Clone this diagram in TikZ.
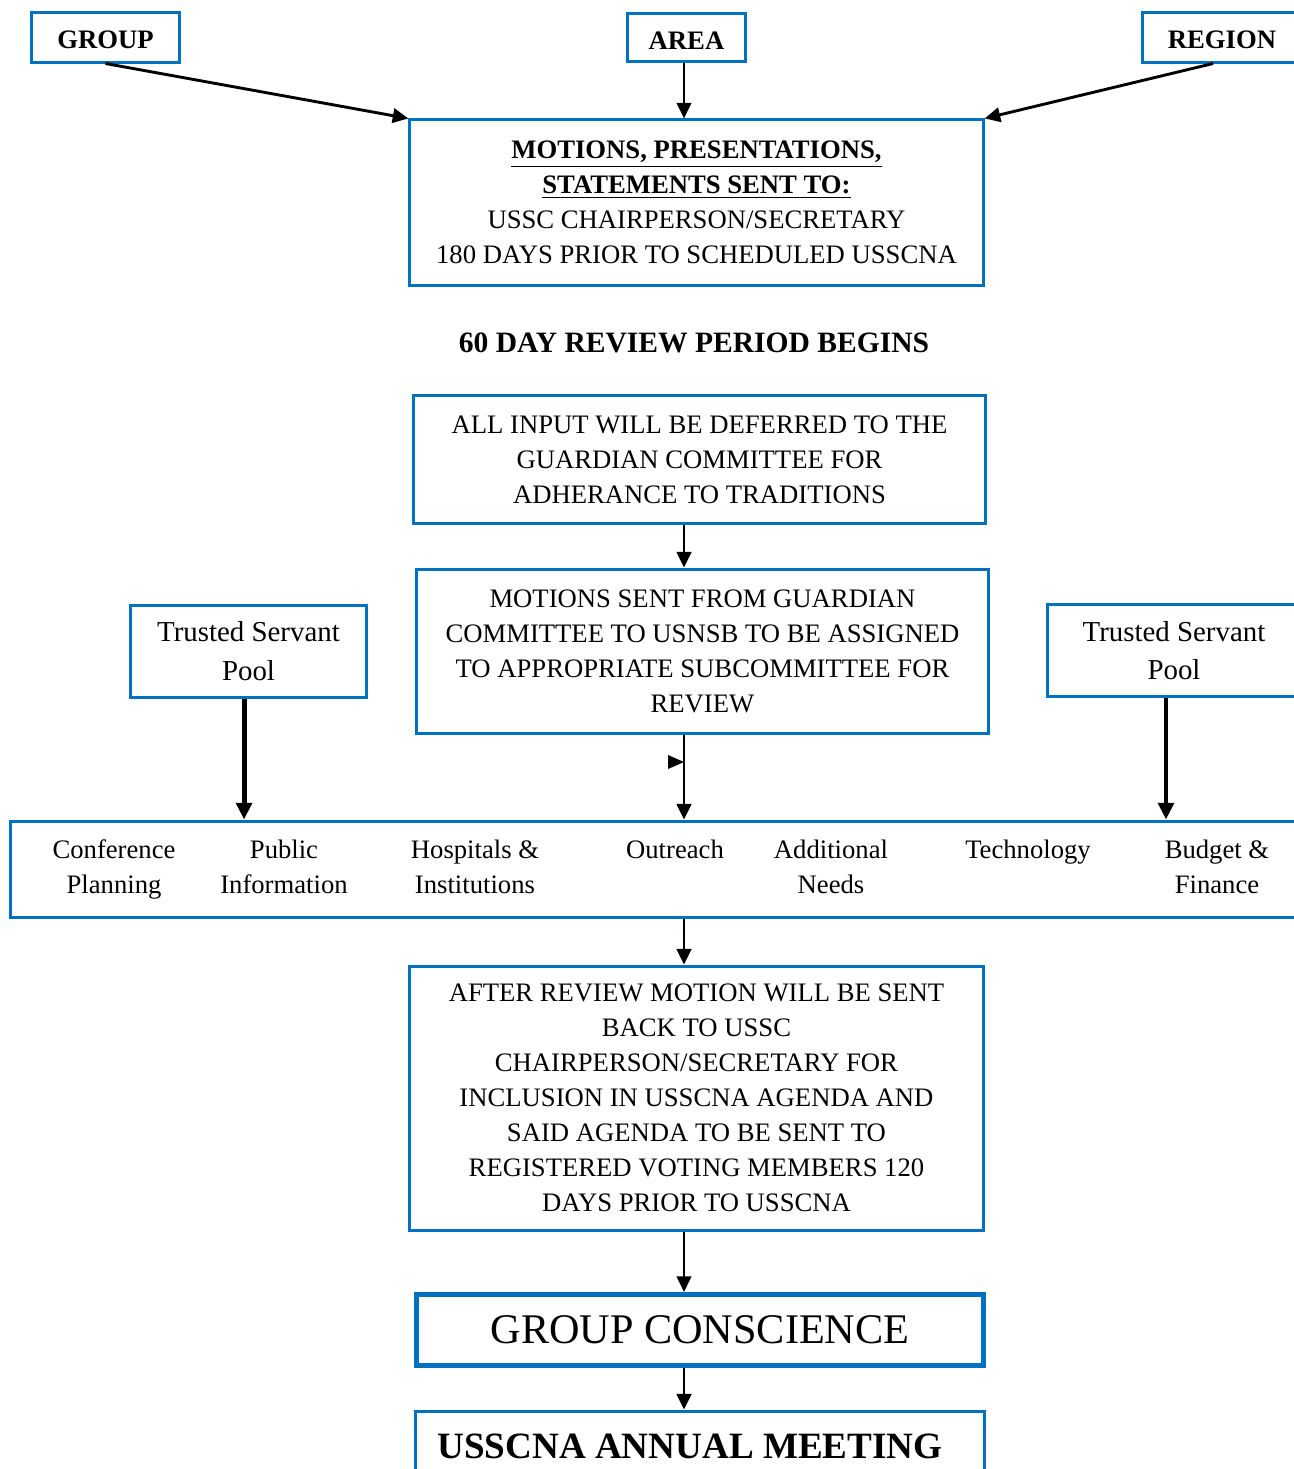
\documentclass[tikz,border=0pt]{standalone}
\usepackage{fontspec}
\setmainfont{Liberation Serif}
\usetikzlibrary{arrows.meta,positioning,calc}
\definecolor{wordblue}{HTML}{0070C0}

\begin{document}
\begin{tikzpicture}[x=0.45pt, y=-0.45pt,
    box/.style={draw=wordblue, line width=1.35pt, align=center, inner sep=0pt,
      font=\fontsize{12}{15.75}\selectfont},
    head/.style={box, text height=10.5pt, text depth=0pt},
    poolbox/.style={box, font=\fontsize{13}{17.2}\selectfont},
    lbl/.style={align=center, inner sep=0pt, font=\fontsize{12}{15.75}\selectfont},
    onelbl/.style={lbl, text height=8.5pt, text depth=2.6pt},
    arr/.style={-{Triangle[length=7pt,width=6.5pt]}, line width=1.3pt},
    fatarr/.style={-{Triangle[length=7.5pt,width=7pt]}, line width=2.2pt}]
  \useasboundingbox (0,0) rectangle (1294,1469);
  \clip (0,0) rectangle (1294,1469);

  % sources
  \node[head, minimum width=67pt, minimum height=22.5pt] (group) at (105.5,37) {\textbf{GROUP}};
  \node[head, minimum width=53.5pt, minimum height=22pt] (area) at (686.5,37.5) {\textbf{AREA}};
  \node[head, minimum width=72pt, minimum height=22.5pt] (region) at (1222,37) {\textbf{REGION}};

  \node[box, minimum width=258pt, minimum height=74.3pt] (motions) at (696.5,202.5)
    {\underline{\textbf{MOTIONS, PRESENTATIONS,}}\\
     \underline{\textbf{STATEMENTS SENT TO:}}\\
     USSC CHAIRPERSON/SECRETARY\\
     180 DAYS PRIOR TO SCHEDULED USSCNA};

  \coordinate (spine) at (684,0);
  \draw[arr] (group.south) -- (motions.north west);
  \draw[arr] (area.south -| spine) -- (motions.north -| spine);
  \draw[arr] ([xshift=-4pt]region.south) -- (motions.north east);

  \node[inner sep=0pt, font=\fontsize{13.3}{16}\bfseries] (review) at (694,343)
    {60 DAY REVIEW PERIOD BEGINS};

  \node[box, minimum width=257pt, minimum height=58pt] (input) at (699.5,459.5)
    {ALL INPUT WILL BE DEFERRED TO THE\\
     GUARDIAN COMMITTEE FOR\\
     ADHERANCE TO TRADITIONS};
  \node[box, minimum width=257pt, minimum height=73.8pt] (sent) at (702.5,651)
    {MOTIONS SENT FROM GUARDIAN\\
     COMMITTEE TO USNSB TO BE ASSIGNED\\
     TO APPROPRIATE SUBCOMMITTEE FOR\\
     REVIEW};
  \draw[arr] (input.south -| spine) -- (sent.north -| spine);

  \node[poolbox, minimum width=105.8pt, minimum height=41.4pt] (poolL) at (248.5,651)
    {Trusted Servant\\ Pool};
  \node[poolbox, minimum width=114.3pt, minimum height=41.8pt] (poolR) at (1174,650.5)
    {Trusted Servant\\ Pool};

  % subcommittees
  \node[box, minimum width=584.6pt, minimum height=43.2pt] (subs) at (660.5,869) {};
  \node[lbl] (conf) at (114,869) {Conference\\ Planning};
  \node[lbl] (pi) at (284,867) {Public\\ Information};
  \node[lbl] (hi) at (475,867) {Hospitals \&\\ Institutions};
  \node[onelbl] (outreach) at (675,852) {Outreach};
  \node[lbl] (needs) at (831,867) {Additional\\ Needs};
  \node[onelbl] (tech) at (1028,852) {Technology};
  \node[lbl] (budget) at (1217,867) {Budget \&\\ Finance};

  \draw[fatarr] ([xshift=-2pt]poolL.south) -- ([xshift=-2pt]poolL.south |- subs.north);
  \draw[fatarr] ([xshift=-3.6pt]poolR.south) -- ([xshift=-3.6pt]poolR.south |- subs.north);
  \draw[arr] (sent.south -| spine) -- (subs.north -| spine);
  \fill (668,755) -- (684,762) -- (668,769) -- cycle;

  \node[box, minimum width=258pt, minimum height=118.8pt] (after) at (696.5,1098)
    {AFTER REVIEW MOTION WILL BE SENT\\
     BACK TO USSC\\
     CHAIRPERSON/SECRETARY FOR\\
     INCLUSION IN USSCNA AGENDA AND\\
     SAID AGENDA TO BE SENT TO\\
     REGISTERED VOTING MEMBERS 120\\
     DAYS PRIOR TO USSCNA};
  \draw[arr] (subs.south -| spine) -- (after.north -| spine);

  \node[box, line width=2.25pt, minimum width=255pt, minimum height=32pt,
    font=\fontsize{19}{22}\selectfont] (conscience) at (700,1330) {GROUP CONSCIENCE};
  \draw[arr] (after.south -| spine) -- (conscience.north -| spine);

  \node[box, minimum width=256pt, minimum height=31.5pt,
    font=\fontsize{16.7}{20}\bfseries] (annual) at (700,1446)
    {USSCNA ANNUAL MEETING\hspace*{9pt}};
  \draw[arr] (conscience.south -| spine) -- (annual.north -| spine);
\end{tikzpicture}
\end{document}
